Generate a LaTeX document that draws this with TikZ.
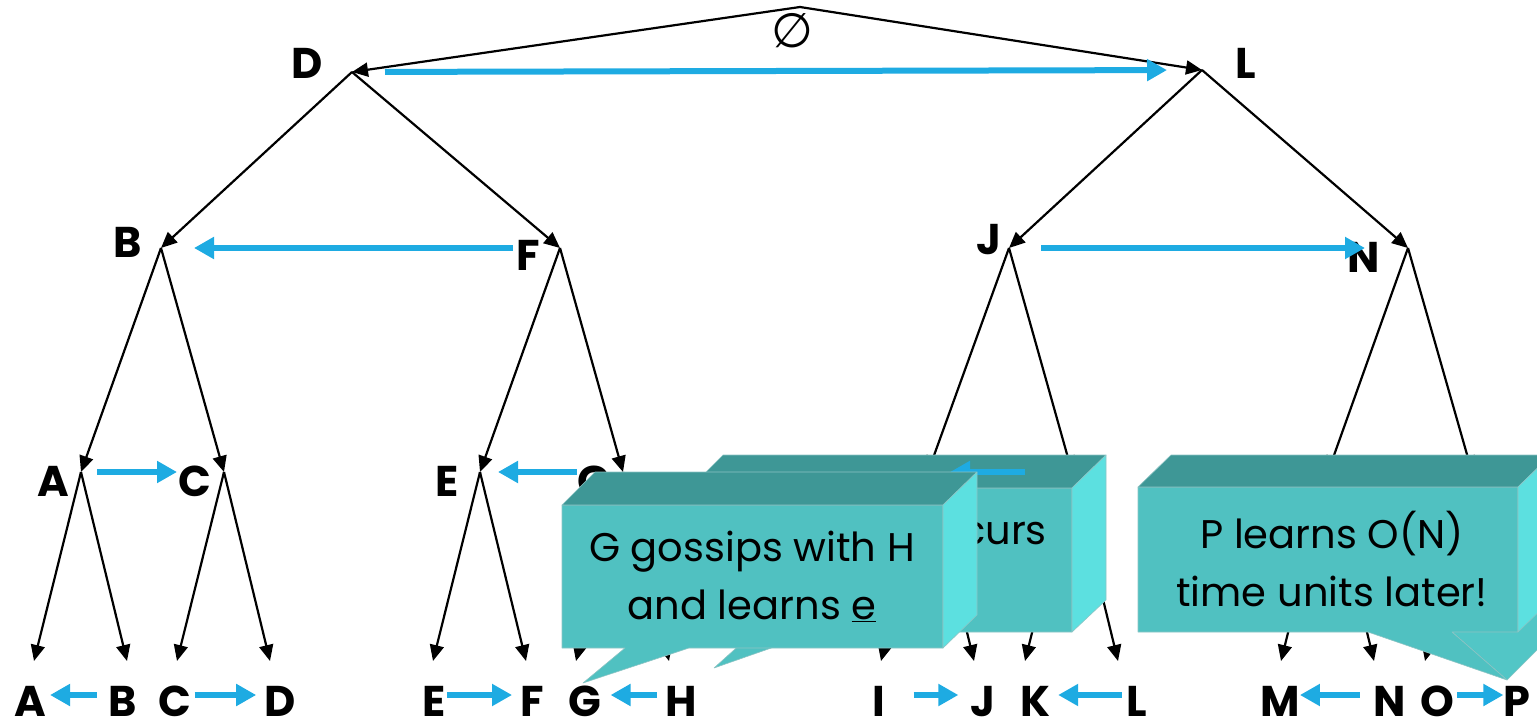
\documentclass[tikz,border=0pt]{standalone}
\usepackage{fontspec}
\setmainfont{Poppins}
\newfontfamily\symfont{DejaVu Sans}
\usetikzlibrary{arrows.meta,positioning}
\definecolor{gossipblue}{RGB}{30,171,226}
\definecolor{boxtop}{RGB}{62,151,150}
\definecolor{boxfront}{RGB}{80,193,193}
\definecolor{boxside}{RGB}{92,224,224}
\definecolor{boxedge}{RGB}{140,196,196}

\begin{document}
\begin{tikzpicture}[
  x=1pt, y=-1pt,
  edge/.style   = {-{Triangle[length=16pt,width=14pt]}, line width=2.2pt},
  gossip/.style = {-{Triangle[length=20pt,width=21pt]}, line width=6pt, gossipblue},
  lbl/.style    = {font={\fontsize{43}{43}\selectfont\bfseries}, inner sep=0pt},
  leaf/.style   = {lbl, text height=42pt, text depth=0pt},
  face/.style   = {fill=#1, draw=boxedge, line width=0.6pt, line join=round},
  say/.style    = {font={\fontsize{40}{58}\selectfont}, align=center, inner sep=0pt},
]
\useasboundingbox (0,0) rectangle (1537,722);

% tree vertices and labels
\coordinate (root) at (800,7);
\node[font={\symfont\fontsize{48}{48}\selectfont}, inner sep=0pt] (empty) at (792,31) {∅};
\foreach \n/\x/\y in {D/352/72, L/1202/70, B/161/248, F/560/248, J/1009/248, N/1408/248,
                      A/81/472, C/224/472, E/480/472, G/623/472, I/928/472, K/1072/472,
                      M/1328/472, O/1472/472}
  \coordinate (v\n) at (\x,\y);
\foreach \n/\x/\y in {D/307/63, L/1246/63, B/128/242, F/528/255, J/989/240, N/1364/257,
                      A/53/481, C/195/481, E/447/481, G/594/481, I/898/481, K/1042/481,
                      M/1298/481, O/1440/481}
  \node[lbl] (lab\n) at (\x,\y) {\n};

% leaves
\foreach \n/\tx/\lx in {A/34/30, B/127/123, C/177/175, D/270/280, E/433/434, F/526/532,
                        G/576/585, H/669/681, I/881/879, J/974/983, K/1025/1035, L/1118/1137,
                        M/1281/1280, N/1374/1390, O/1425/1437, P/1518/1517} {
  \coordinate (t\n) at (\tx,661);
  \node[leaf] (leaf\n) at (\lx,695) {\n};
}

\foreach \p/\c in {root/vD, root/vL, vD/vB, vD/vF, vL/vJ, vL/vN,
                   vB/vA, vB/vC, vF/vE, vF/vG, vJ/vI, vJ/vK, vN/vM, vN/vO,
                   vA/tA, vA/tB, vC/tC, vC/tD, vE/tE, vE/tF, vG/tG, vG/tH,
                   vI/tI, vI/tJ, vK/tK, vK/tL, vM/tM, vM/tN, vO/tO, vO/tP}
  \draw[edge] (\p) -- (\c);

% gossip exchanges
\foreach \s/\t/\a/\b in {vD/vL/33/35, vF/vB/47/33, vJ/vN/32/43, vA/vC/16/47, vG/vE/46/18}
  \draw[gossip, shorten <=\a pt, shorten >=\b pt] (\s) -- (\t);
\foreach \s/\t/\a/\b in {leafB/leafA/12/4, leafC/leafD/3/8, leafE/leafF/1/8, leafH/leafG/8/9,
                         leafI/leafJ/28/12, leafL/leafK/5/8, leafN/leafM/14/0, leafO/leafP/3/0}
  \draw[gossip, shorten <=\a pt, shorten >=\b pt] (\s) -- (\t);

% back callout
\path[face=boxfront] (690,488) -- (1072,488) -- (1072,632) -- (817,632) -- (714,668)
  -- (754,632) -- (690,632) -- cycle;
\path[face=boxtop] (690,488) -- (723,455) -- (1106,455) -- (1072,488) -- cycle;
\path[face=boxside] (1072,488) -- (1106,455) -- (1106,600) -- (1072,632) -- cycle;
\node[say, anchor=east] (occurs) at (1047,560) {Event e occurs\\at H};
\draw[gossip, shorten <=47pt, shorten >=22pt] (vK) -- (vI);

% front callout
\path[face=boxfront] (562,505) -- (943,505) -- (943,648) -- (689,648) -- (583,683)
  -- (625,648) -- (562,648) -- cycle;
\path[face=boxtop] (562,505) -- (595,472) -- (977,472) -- (943,505) -- cycle;
\path[face=boxside] (943,505) -- (977,472) -- (977,615) -- (943,648) -- cycle;
\node[say] (learns) at (752,576) {G gossips with H\\and learns \underline{e}};

% right callout
\path[face=boxfront!85!boxside] (1452,632) -- (1507,680) -- (1540,647) -- (1551,630)
  -- (1551,600) -- cycle;
\path[face=boxfront] (1138,487) -- (1518,487) -- (1518,632) -- (1452,632) -- (1507,680)
  -- (1368,632) -- (1138,632) -- cycle;
\path[face=boxtop] (1138,487) -- (1171,455) -- (1551,455) -- (1518,487) -- cycle;
\path[face=boxside] (1518,487) -- (1551,455) -- (1551,600) -- (1518,632) -- cycle;
\node[say] (later) at (1332,559) {P learns O(N)\\time units later!};
\end{tikzpicture}
\end{document}
